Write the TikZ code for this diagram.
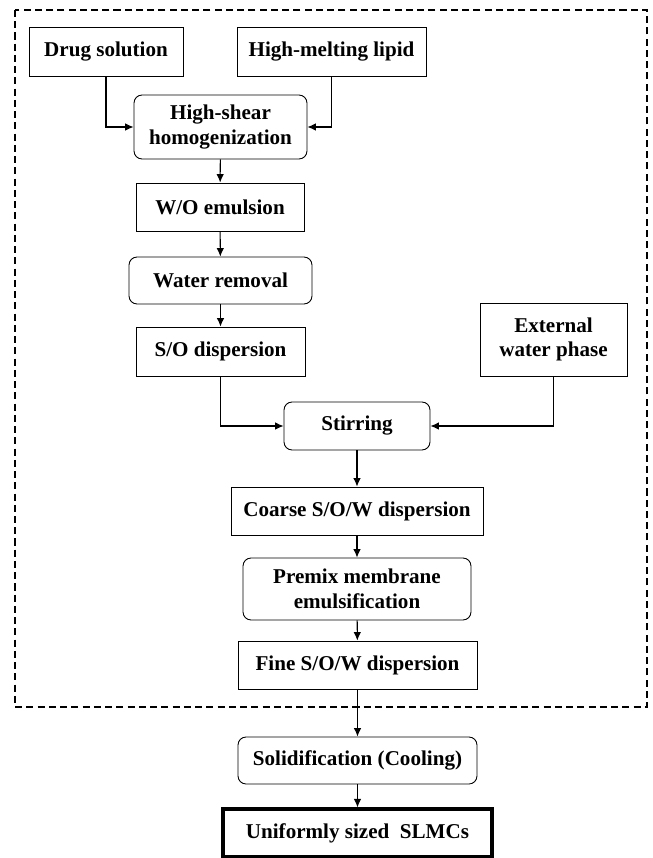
\documentclass[tikz,border=0pt]{standalone}
\usepackage{fontspec}
\setmainfont{Liberation Serif}
\usepackage{tikz}
\usetikzlibrary{arrows.meta}

\begin{document}
\begin{tikzpicture}[x=0.02cm, y=-0.02cm,
    box/.style={draw, line width=0.5pt, inner sep=0pt, align=center,
      font=\fontsize{12}{14}\selectfont\bfseries},
    roundbox/.style={box, rounded corners=1.6mm},
    finalbox/.style={box, line width=1.8pt},
    arr/.style={line width=0.6pt, -{Latex[length=1.7mm, width=1.5mm]}}]
          \useasboundingbox (0,0) rectangle (652,858);
          \draw [dashed, line width=0.9pt, dash pattern=on 4pt off 2.4pt] (15,10) rectangle (647,707); % Draws the dashed frame

          \node [box, minimum width=3.08cm, minimum height=0.98cm] (drug) at (106,51.5) {Drug solution};
          \node [box, minimum width=3.78cm, minimum height=0.98cm] (lipid) at (331.5,51.5) {High-melting lipid};
          \node [roundbox, minimum width=3.46cm, minimum height=1.28cm] (shear) at (220.5,127) {High-shear\\homogenization};
          \node [box, minimum width=3.36cm, minimum height=0.96cm] (wo) at (220,207) {W/O emulsion};
          \node [roundbox, minimum width=3.66cm, minimum height=0.94cm] (removal) at (220.5,280.5) {Water removal};
          \node [box, minimum width=3.38cm, minimum height=0.98cm] (so) at (220.5,351.5) {S/O dispersion};
          \node [box, minimum width=2.94cm, minimum height=1.46cm] (extwater) at (553.5,339.5) {External\\water phase};
          \node [roundbox, minimum width=2.92cm, minimum height=0.96cm] (stirring) at (357,426) {Stirring};
          \node [box, minimum width=5.04cm, minimum height=0.96cm] (coarse) at (357,511) {Coarse S/O/W dispersion};
          \node [roundbox, minimum width=4.56cm, minimum height=1.24cm] (premix) at (357,589) {Premix membrane\\emulsification};
          \node [box, minimum width=4.78cm, minimum height=0.96cm] (fine) at (357.5,665) {Fine S/O/W dispersion};
          \node [roundbox, minimum width=4.78cm, minimum height=0.94cm] (solid) at (357.5,760.5) {Solidification (Cooling)};
          \node [finalbox, minimum width=5.38cm, minimum height=0.96cm] (slmc) at (357.5,833) {Uniformly sized\ \ SLMCs};

          \draw [arr] (drug.south) |- (shear.west);
          \draw [arr] (lipid.south) |- (shear.east);
          \draw [arr] (shear) -- (wo);
          \draw [arr] (wo) -- (removal);
          \draw [arr] (removal) -- (so);
          \draw [arr] (so.south) |- (stirring.west);
          \draw [arr] (extwater.south) |- (stirring.east);
          \draw [arr] (stirring) -- (coarse);
          \draw [arr] (coarse) -- (premix);
          \draw [arr] (premix) -- (fine);
          \draw [arr] (fine) -- (solid);
          \draw [arr] (solid) -- (slmc);
        \end{tikzpicture}
\end{document}
